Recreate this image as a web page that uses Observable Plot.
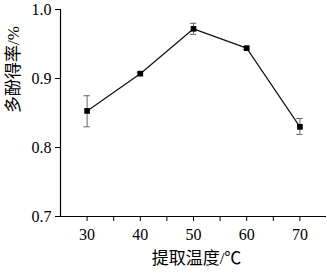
<!DOCTYPE html>
<html><head><meta charset="utf-8">
<script src="https://cdn.jsdelivr.net/npm/d3@7"></script>
<script src="https://cdn.jsdelivr.net/npm/@observablehq/plot@0.6"></script>
<style>body{margin:0;background:#fff}</style>
</head><body><div id="chart"></div>
<script>
const temps = [30, 40, 50, 60, 70];
const yieldVals = [0.853, 0.907, 0.972, 0.944, 0.830];
const errLow = [0.830, 0.905, 0.964, 0.942, 0.819];
const errHigh = [0.875, 0.909, 0.980, 0.946, 0.842];
const xTicks = [30, 40, 50, 60, 70];
const xMinorTicks = [35, 45, 55, 65];
const yTicks = [0.7, 0.8, 0.9, 1.0];
const data = temps.map((t, i) => ({t, v: yieldVals[i], lo: errLow[i], hi: errHigh[i]}));
const font = "'Liberation Serif', 'Noto Sans CJK SC', serif";
const capHalf = 0.6;
const chart = Plot.plot({
  width: 327, height: 274,
  marginLeft: 60, marginRight: 1, marginTop: 9, marginBottom: 58,
  style: {fontFamily: font, fontSize: "16px", color: "#000", background: "#fff"},
  x: {domain: [25, 75]},
  y: {domain: [0.7, 1.0]},
  marks: [
    Plot.ruleY([0.7], {stroke: "#000", strokeWidth: 1.2}),
    Plot.ruleX([25], {stroke: "#000", strokeWidth: 1.2}),
    Plot.axisX({ticks: xTicks, tickSize: 5, tickPadding: 7, tickFormat: d => d, label: null, fontSize: 16}),
    Plot.axisX({ticks: xMinorTicks, tickSize: 5, tickFormat: () => "", label: null}),
    Plot.axisY({ticks: yTicks, tickSize: 5, tickPadding: 4, tickFormat: d3.format(".1f"), label: null, fontSize: 16}),
    Plot.ruleX(data, {x: "t", y1: "lo", y2: "hi", stroke: "#666", strokeWidth: 1}),
    Plot.ruleY(data, {y: "lo", x1: d => d.t - capHalf, x2: d => d.t + capHalf, stroke: "#666", strokeWidth: 1}),
    Plot.ruleY(data, {y: "hi", x1: d => d.t - capHalf, x2: d => d.t + capHalf, stroke: "#666", strokeWidth: 1}),
    Plot.line(data, {x: "t", y: "v", stroke: "#111", strokeWidth: 1.2}),
    Plot.dot(data, {x: "t", y: "v", symbol: "square", r: 3.2, fill: "#000", stroke: "none"}),
    Plot.text(["提取温度/℃"], {frameAnchor: "bottom", dx: 3, dy: 47, fontSize: 17, fill: "#000"}),
    Plot.text(["多酚得率/%"], {frameAnchor: "left", dx: -47, rotate: -90, fontSize: 17, fill: "#000"})
  ]
});
document.getElementById("chart").appendChild(chart);
</script>
</body></html>
